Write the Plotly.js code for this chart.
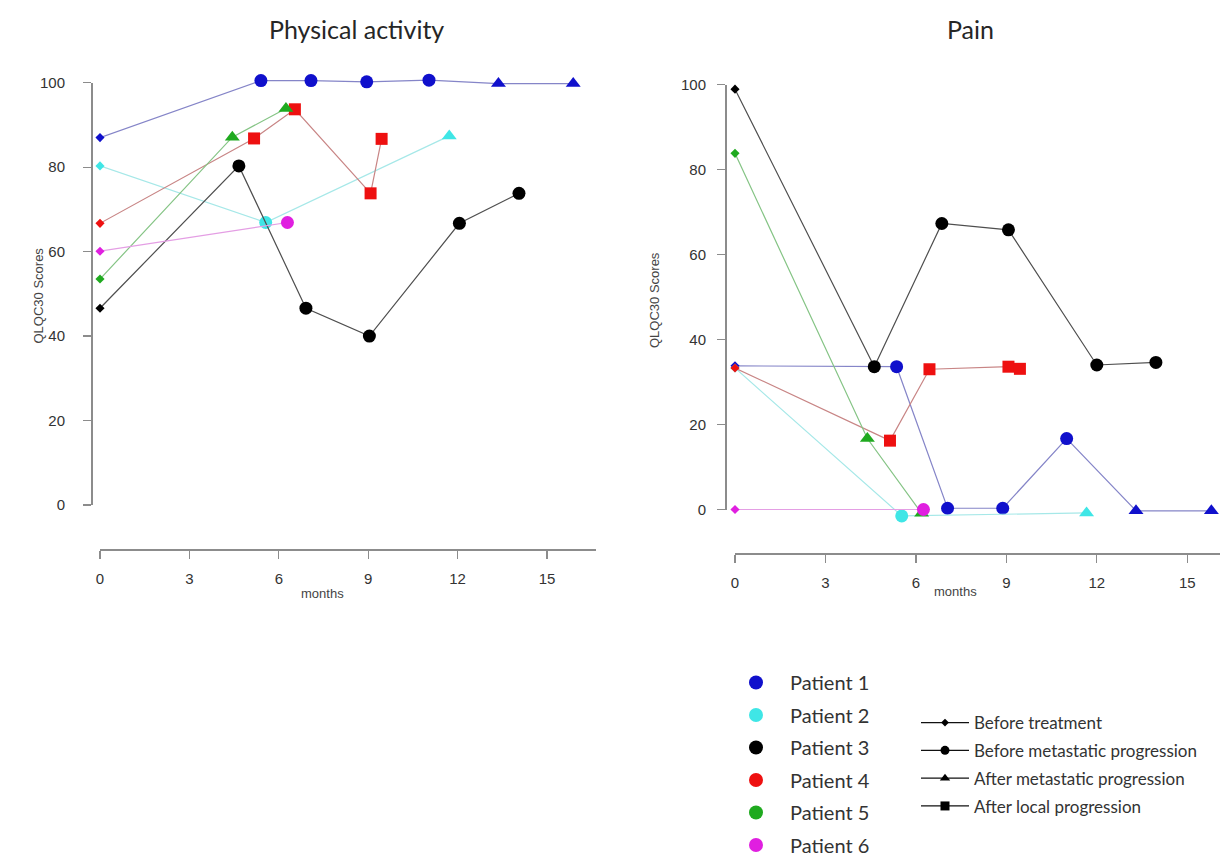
<!DOCTYPE html>
<html><head><meta charset="utf-8">
<script src="https://cdn.plot.ly/plotly-3.0.1.min.js"></script>
<style>html,body{margin:0;padding:0;background:#fff}#chart{width:1220px;height:857px}</style>
</head><body><div id="chart"></div>
<script>
// ---------- DATA ----------
const patients = ['Patient 1', 'Patient 2', 'Patient 3', 'Patient 4', 'Patient 5', 'Patient 6'];
const stageNames = ['Before treatment', 'Before metastatic progression', 'After metastatic progression', 'After local progression'];
const panelTitles = ['Physical activity', 'Pain'];
const monthTicks = [0, 3, 6, 9, 12, 15];
const scoreTicks = [0, 20, 40, 60, 80, 100];

// Physical activity (months, score, stage code: BT/BM/AM/AL)
const paP1Months = [0, 5.40, 7.08, 8.95, 11.04, 13.37, 15.88];
const paP1Scores = [87.0, 100.5, 100.5, 100.2, 100.6, 99.8, 99.8];
const paP1Stages = ['BT', 'BM', 'BM', 'BM', 'BM', 'AM', 'AM'];
const paP2Months = [0, 5.56, 11.72];
const paP2Scores = [80.3, 66.9, 87.4];
const paP2Stages = ['BT', 'BM', 'AM'];
const paP3Months = [0, 4.66, 6.91, 9.04, 12.06, 14.06];
const paP3Scores = [46.6, 80.3, 46.6, 40.0, 66.7, 73.8];
const paP3Stages = ['BT', 'BM', 'BM', 'BM', 'BM', 'BM'];
const paP4Months = [0, 5.17, 6.54, 9.08, 9.45];
const paP4Scores = [66.7, 86.8, 93.7, 73.8, 86.7];
const paP4Stages = ['BT', 'AL', 'AL', 'AL', 'AL'];
const paP5Months = [0, 4.44, 6.24];
const paP5Scores = [53.5, 87.1, 93.9];
const paP5Stages = ['BT', 'AM', 'AM'];
const paP6Months = [0, 6.29];
const paP6Scores = [60.1, 66.9];
const paP6Stages = ['BT', 'BM'];

// Pain
const pnP1Months = [0, 5.36, 7.05, 8.88, 11.0, 13.3, 15.8];
const pnP1Scores = [33.8, 33.6, 0.3, 0.3, 16.7, -0.3, -0.3];
const pnP1Stages = ['BT', 'BM', 'BM', 'BM', 'BM', 'AM', 'AM'];
const pnP2Months = [0, 5.53, 11.66];
const pnP2Scores = [33.3, -1.5, -0.8];
const pnP2Stages = ['BT', 'BM', 'AM'];
const pnP3Months = [0, 4.62, 6.86, 9.07, 12.0, 13.96];
const pnP3Scores = [98.9, 33.6, 67.3, 65.8, 34.0, 34.6];
const pnP3Stages = ['BT', 'BM', 'BM', 'BM', 'BM', 'BM'];
const pnP4Months = [0, 5.14, 6.45, 9.07, 9.45];
const pnP4Scores = [33.3, 16.2, 33.0, 33.6, 33.1];
const pnP4Stages = ['BT', 'AL', 'AL', 'AL', 'AL'];
const pnP5Months = [0, 4.39, 6.19];
const pnP5Scores = [83.8, 16.7, -0.9];
const pnP5Stages = ['BT', 'AM', 'AM'];
const pnP6Months = [0, 6.25];
const pnP6Scores = [0, 0];
const pnP6Stages = ['BT', 'BM'];

// ---------- STYLE ----------
const markerColors = ['#1010CC', '#3FE6E6', '#000000', '#EE1010', '#1FAA1F', '#E01FE0'];
const lineColors = ['#8585C8', '#A6E8E8', '#4E4E4E', '#C88585', '#85C485', '#E49EE4'];
const stageCodes = ['BT', 'BM', 'AM', 'AL'];
const stageSymbols = {BT: 'diamond', BM: 'circle', AM: 'triangle-up', AL: 'square'};
const stageSizes = {BT: 7, BM: 13, AM: 13, AL: 12};
const legendStageSizes = {BT: 6, BM: 9, AM: 9, AL: 9};

const panels = [
  {months: [paP1Months, paP2Months, paP3Months, paP4Months, paP5Months, paP6Months],
   scores: [paP1Scores, paP2Scores, paP3Scores, paP4Scores, paP5Scores, paP6Scores],
   stages: [paP1Stages, paP2Stages, paP3Stages, paP4Stages, paP5Stages, paP6Stages],
   xa: 'x', ya: 'y'},
  {months: [pnP1Months, pnP2Months, pnP3Months, pnP4Months, pnP5Months, pnP6Months],
   scores: [pnP1Scores, pnP2Scores, pnP3Scores, pnP4Scores, pnP5Scores, pnP6Scores],
   stages: [pnP1Stages, pnP2Stages, pnP3Stages, pnP4Stages, pnP5Stages, pnP6Stages],
   xa: 'x2', ya: 'y2'}
];

const traces = [];
panels.forEach(p => {
  patients.forEach((name, i) => {
    traces.push({
      type: 'scatter', mode: 'lines+markers',
      x: p.months[i], y: p.scores[i],
      xaxis: p.xa, yaxis: p.ya,
      name: name, showlegend: false, hoverinfo: 'skip', cliponaxis: false,
      line: {color: lineColors[i], width: 1.2},
      marker: {color: markerColors[i], opacity: 1,
               symbol: p.stages[i].map(s => stageSymbols[s]),
               size: p.stages[i].map(s => stageSizes[s]),
               line: {width: 0}}
    });
  });
});
// empty traces that carry the score axes
traces.push({type: 'scatter', x: [], y: [], xaxis: 'x', yaxis: 'y3', showlegend: false, hoverinfo: 'skip'});
traces.push({type: 'scatter', x: [], y: [], xaxis: 'x2', yaxis: 'y4', showlegend: false, hoverinfo: 'skip'});

// legend entries
patients.forEach((name, i) => {
  traces.push({type: 'scatter', mode: 'markers', x: [null], y: [null], xaxis: 'x', yaxis: 'y',
    name: name, legend: 'legend', legendgroup: 'p' + i, hoverinfo: 'skip',
    marker: {color: markerColors[i], size: 14, symbol: 'circle', opacity: 1}});
});
stageCodes.forEach((c, i) => {
  traces.push({type: 'scatter', mode: 'lines+markers', x: [null], y: [null], xaxis: 'x', yaxis: 'y',
    name: stageNames[i], legend: 'legend2', legendgroup: 's' + i, hoverinfo: 'skip',
    line: {color: '#111', width: 1.3},
    marker: {color: '#000', size: legendStageSizes[c], symbol: stageSymbols[c], opacity: 1}});
});

// ---------- LAYOUT ----------
const W = 1220, H = 857;
const px = v => v / W;
const py = v => 1 - v / H;
const axisLine = '#8c8c8c';
const tickFont = {family: 'Liberation Sans, Arial, sans-serif', size: 15, color: '#333'};

function monthAxis(x0, x1, pxPerMonth, yLine, standoff) {
  return {domain: [px(x0), px(x1)], range: [0, (x1 - x0) / pxPerMonth], anchor: 'free', position: py(yLine),
    showline: true, linecolor: axisLine, linewidth: 1.5, ticks: 'outside', ticklen: 8, tickwidth: 1.3,
    tickcolor: axisLine, tickmode: 'array', tickvals: monthTicks, tickfont: tickFont, ticklabelstandoff: standoff,
    showgrid: false, zeroline: false, fixedrange: true};
}
function dataY(zeroPx, pxPerUnit, yTop, yBot) {
  return {domain: [py(yBot), py(yTop)], range: [(zeroPx - yBot) / pxPerUnit, (zeroPx - yTop) / pxPerUnit],
    visible: false, fixedrange: true};
}
function scoreAxis(zeroPx, hundredPx, xLine, standoff) {
  return {domain: [py(zeroPx), py(hundredPx)], range: [0, 100], anchor: 'free', position: px(xLine),
    showline: true, linecolor: axisLine, linewidth: 1.5, ticks: 'outside', ticklen: 8, tickwidth: 1.3,
    tickcolor: axisLine, tickmode: 'array', tickvals: scoreTicks, tickfont: tickFont, ticklabelstandoff: standoff,
    showgrid: false, zeroline: false, fixedrange: true};
}

const annFont = {family: 'Liberation Sans, Arial, sans-serif', size: 13, color: '#444'};
const yTitleFont = {family: 'Liberation Sans, Arial, sans-serif', size: 13, color: '#444'};
const titleFont = {family: 'Lato, sans-serif', size: 25, color: '#262626'};
const ann = (text, x, y, font, extra) => Object.assign({text: text, xref: 'paper', yref: 'paper', x: px(x), y: py(y),
  xanchor: 'center', yanchor: 'middle', showarrow: false, font: font}, extra || {});

const layout = {
  width: W, height: H, margin: {l: 0, r: 0, t: 0, b: 0, pad: 0, autoexpand: false},
  paper_bgcolor: '#fff', plot_bgcolor: 'rgba(0,0,0,0)',
  showlegend: true,
  xaxis: monthAxis(100, 596, 29.8, 549, 7),
  yaxis: dataY(505, 4.223, 60, 540),
  yaxis3: scoreAxis(505, 82.7, 91, 15),
  xaxis2: monthAxis(735, 1220, 30.15, 553, 7),
  yaxis2: dataY(509.5, 4.25, 60, 540),
  yaxis4: scoreAxis(509.5, 84.5, 725, 8),
  legend: {x: px(722), y: py(663), xanchor: 'left', yanchor: 'top', bgcolor: 'rgba(0,0,0,0)',
    font: {family: 'Lato, sans-serif', size: 20, color: '#333'}, itemwidth: 58, tracegroupgap: 3.5,
    traceorder: 'grouped', itemclick: false, itemdoubleclick: false},
  legend2: {x: px(916), y: py(705), xanchor: 'left', yanchor: 'top', bgcolor: 'rgba(0,0,0,0)',
    font: {family: 'Lato, sans-serif', size: 17, color: '#333'}, itemwidth: 48, tracegroupgap: 2.7,
    traceorder: 'grouped', itemclick: false, itemdoubleclick: false},
  annotations: [
    ann(panelTitles[0], 356, 29, titleFont),
    ann(panelTitles[1], 970, 29, titleFont),
    ann('QLQC30 Scores', 38.5, 296, yTitleFont, {textangle: -90}),
    ann('QLQC30 Scores', 654, 300, yTitleFont, {textangle: -90}),
    ann('months', 322, 593, annFont),
    ann('months', 955, 591, annFont)
  ]
};

Plotly.newPlot('chart', traces, layout, {staticPlot: true, displayModeBar: false});
</script>
</body></html>
